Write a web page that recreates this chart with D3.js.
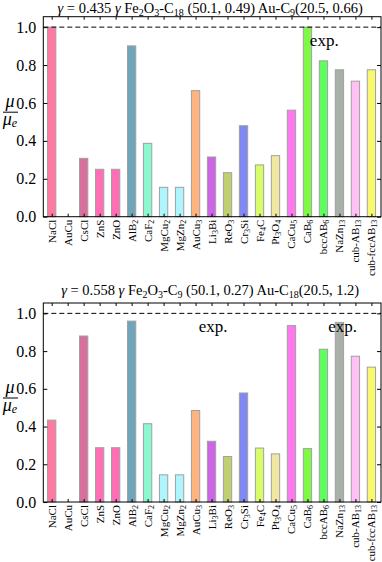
<!DOCTYPE html>
<html>
<head>
<meta charset="utf-8">
<script src="https://cdn.jsdelivr.net/npm/d3@7/dist/d3.min.js"></script>
<style>
  html, body { margin: 0; padding: 0; background: #fff; }
  svg text { font-family: "Liberation Serif", "DejaVu Serif", serif; fill: #000; }
</style>
</head>
<body>
<svg id="chart" width="382" height="562"></svg>
<script>
// structure names, digits are drawn as subscripts
var categories = ["NaCl", "AuCu", "CsCl", "ZnS", "ZnO", "AlB2", "CaF2", "MgCu2", "MgZn2", "AuCu3",
    "Li3Bi", "ReO3", "Cr3Si", "Fe4C", "Pt3O4", "CaCu5", "CaB6", "bccAB6", "NaZn13", "cub-AB13", "cub-fccAB13"];

var barColors = ["#ff7aa0", "#ffffff", "#d8709c", "#ff6eb4", "#ff6eb4", "#70a4b8", "#8cf8d0", "#b0f4fc",
    "#b0f4fc", "#ffb480", "#cc66e6", "#c0d070", "#8088f4", "#d8fc6c", "#f0e8a0", "#ff78f0", "#80f848",
    "#60fc60", "#a8b0a8", "#ffc0f4", "#f8f870"];

var valuesTop = [1.0, 0, 0.308, 0.25, 0.25, 0.901, 0.387, 0.155, 0.155, 0.665, 0.315, 0.232, 0.48,
    0.273, 0.322, 0.562, 1.0, 0.822, 0.775, 0.715, 0.775];

var valuesBottom = [0.434, 0, 0.88, 0.288, 0.288, 0.959, 0.415, 0.144, 0.144, 0.485, 0.322, 0.241,
    0.578, 0.286, 0.255, 0.935, 0.283, 0.81, 0.952, 0.773, 0.715];

var yTicks = [0, 0.2, 0.4, 0.6, 0.8, 1.0];
var yTickLabels = ["0.0", "0.2", "0.4", "0.6", "0.8", "1.0"];

// title pieces: [text, subscript?]
var titleTop = [["0.435 ", false], ["γ", "i"], [" Fe", false], ["2", true], ["O", false], ["3", true],
    ["-C", false], ["18", true], [" (50.1, 0.49) Au-C", false], ["9", true], ["(20.5, 0.66)", false]];
var titleBottom = [["0.558 ", false], ["γ", "i"], [" Fe", false], ["2", true], ["O", false], ["3", true],
    ["-C", false], ["9", true], [" (50.1, 0.27) Au-C", false], ["18", true], ["(20.5, 1.2)", false]];

// "exp." markers: [x position in category units, y value]
var expTop = [[16.15, 0.9]];
var expBottom = [[9.2, 0.9], [17.3, 0.9]];

var panels = [
    {values: valuesTop, title: titleTop, exp: expTop, top: 16.7, bottom: 216.7, titleY: 13},
    {values: valuesBottom, title: titleBottom, exp: expBottom, top: 303, bottom: 502, titleY: 295}
];

var svg = d3.select("#chart");
var left = 43.3, right = 381;

var x = d3.scaleLinear().domain([-0.525, 20.6]).range([left, right]);
var barW = x(0.52) - x(0);

// split "Fe2O3" into [["Fe",false],["2",true],...]
function parts(s){
    var out = [];
    s.replace(/(\d+|[^\d]+)/g, function(m){ out.push([m, /\d/.test(m)]); });
    return out;
}

function addPieces(sel, pieces, subSize){
    pieces.forEach(function(p){
        var t = sel.append("tspan").text(p[0]);
        if(p[1] === "i"){
            t.attr("font-style", "italic");
        } else if(p[1]){
            t.attr("font-size", subSize).attr("baseline-shift", "-25%");
        }
    });
}

panels.forEach(function(pn){
    var y = d3.scaleLinear().domain([0, 1.055]).range([pn.bottom, pn.top]);
    var g = svg.append("g");

    // title
    var title = g.append("text")
        .attr("x", (left + right) / 2 - 2)
        .attr("y", pn.titleY)
        .attr("text-anchor", "middle")
        .attr("font-size", 14.5);
    title.append("tspan").attr("font-style", "italic").text("γ");
    title.append("tspan").text(" = ");
    addPieces(title, pn.title, 10);

    var bars = pn.values.map(function(v, i){ return {v: v, i: i}; })
        .filter(function(d){ return d.v > 0; });

    // bars
    g.selectAll("rect.bar")
        .data(bars)
        .enter()
        .append("rect")
        .attr("class", "bar")
        .attr("x", function(d){ return x(d.i) - barW / 2; })
        .attr("y", function(d){ return y(d.v); })
        .attr("width", barW)
        .attr("height", function(d){ return y(0) - y(d.v); })
        .attr("fill", function(d){ return barColors[d.i]; })
        .attr("stroke", "#a0a0a0")
        .attr("stroke-width", 1);

    // dashed 1.0 line
    g.append("line")
        .attr("x1", left).attr("x2", right)
        .attr("y1", y(1)).attr("y2", y(1))
        .attr("stroke", "#000")
        .attr("stroke-width", 1)
        .attr("stroke-dasharray", "5,3");

    // exp. labels
    pn.exp.forEach(function(e){
        g.append("text")
            .attr("x", x(e[0]))
            .attr("y", y(e[1]))
            .attr("font-size", 17)
            .text("exp.");
    });

    // frame
    g.append("rect")
        .attr("x", left).attr("y", pn.top)
        .attr("width", right - left).attr("height", pn.bottom - pn.top)
        .attr("fill", "none")
        .attr("stroke", "#000")
        .attr("stroke-width", 1);

    // y ticks, inward on both sides
    var yAxisL = d3.axisLeft(y).tickValues(yTicks).tickSizeInner(-4).tickSizeOuter(0)
        .tickFormat(function(d, i){ return yTickLabels[i]; }).tickPadding(7);
    var ga = g.append("g").attr("transform", "translate(" + left + ",0)").call(yAxisL);
    ga.select(".domain").remove();
    ga.selectAll("text").attr("font-size", 16).attr("font-family", "Liberation Serif").attr("fill", "#000");

    var yAxisR = d3.axisRight(y).tickValues(yTicks).tickSizeInner(-4).tickSizeOuter(0).tickFormat("");
    var gr = g.append("g").attr("transform", "translate(" + right + ",0)").call(yAxisR);
    gr.select(".domain").remove();

    // x ticks, inward top and bottom
    var idx = d3.range(categories.length);
    var xAxisB = d3.axisBottom(x).tickValues(idx).tickSizeInner(-3).tickSizeOuter(0).tickFormat("");
    var gb = g.append("g").attr("transform", "translate(0," + pn.bottom + ")").call(xAxisB);
    gb.select(".domain").remove();
    var xAxisT = d3.axisTop(x).tickValues(idx).tickSizeInner(-3).tickSizeOuter(0).tickFormat("");
    var gt = g.append("g").attr("transform", "translate(0," + pn.top + ")").call(xAxisT);
    gt.select(".domain").remove();

    // rotated category labels
    categories.forEach(function(c, i){
        var t = g.append("text")
            .attr("transform", "translate(" + (x(i) + 4) + "," + (pn.bottom + 3) + ") rotate(-90)")
            .attr("text-anchor", "end")
            .attr("font-size", 11);
        addPieces(t, parts(c), 8);
    });

    // y label mu / mu_e
    var cy = (pn.top + pn.bottom) / 2 - 4.5;
    g.append("text")
        .attr("x", 10).attr("y", cy - 5)
        .attr("text-anchor", "middle")
        .attr("font-size", 18).attr("font-style", "italic")
        .text("μ");
    g.append("line")
        .attr("x1", 3).attr("x2", 18)
        .attr("y1", cy).attr("y2", cy)
        .attr("stroke", "#000").attr("stroke-width", 1);
    var lb = g.append("text")
        .attr("x", 10).attr("y", cy + 13)
        .attr("text-anchor", "middle")
        .attr("font-size", 18).attr("font-style", "italic");
    lb.append("tspan").text("μ");
    lb.append("tspan").attr("font-size", 12).attr("baseline-shift", "-20%").text("e");
});
</script>
</body>
</html>
